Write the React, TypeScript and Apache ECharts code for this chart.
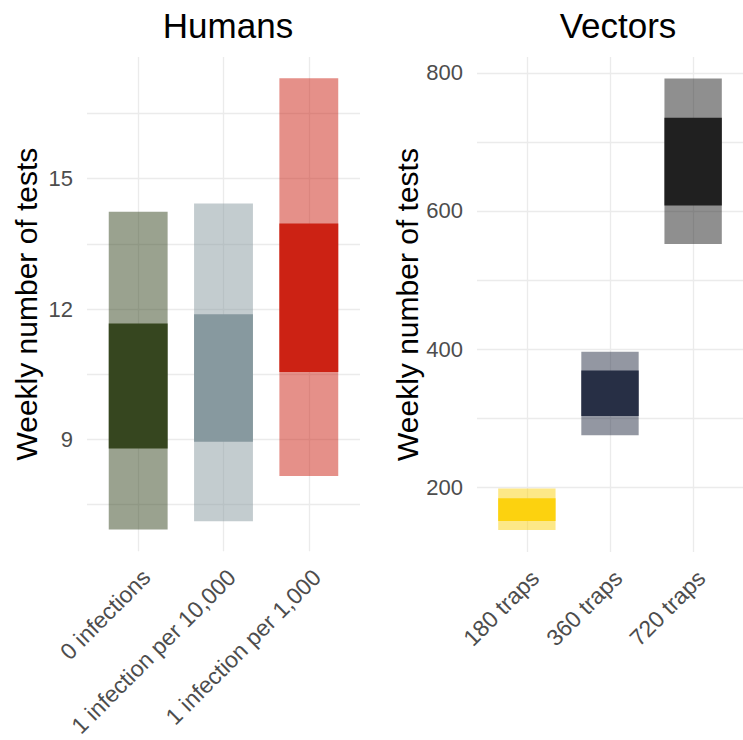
import React, { useEffect, useRef } from "react";
import * as echarts from "echarts";

const humanCategories = ["0 infections", "1 infection per 10,000", "1 infection per 1,000"];
const humanOuterLow = [6.93, 7.12, 8.16];
const humanOuterHigh = [14.24, 14.43, 17.31];
const humanInnerLow = [8.79, 8.95, 10.55];
const humanInnerHigh = [11.67, 11.88, 13.97];
const humanColors = ["#36461F", "#87999F", "#CC2214"];
const humanTicks = [7.5, 9, 10.5, 12, 13.5, 15, 16.5];
const humanLabels = [9, 12, 15];

const vectorCategories = ["180 traps", "360 traps", "720 traps"];
const vectorOuterLow = [138, 275, 552];
const vectorOuterHigh = [198, 396, 792];
const vectorInnerLow = [151, 303, 608];
const vectorInnerHigh = [184, 369, 735];
const vectorColors = ["#FCD20F", "#272F45", "#202020"];
const vectorTicks = [200, 300, 400, 500, 600, 700, 800];
const vectorLabels = [200, 400, 600, 800];

const FONT = "'Liberation Sans', Arial, sans-serif";
const GRID_COLOR = "#EBEBEB";

function buildData(oLow: number[], oHigh: number[], iLow: number[], iHigh: number[]) {
  return oLow.map((v, i) => [i + 1, v, oHigh[i], iLow[i], iHigh[i], i]);
}

function makeRenderItem(colors: string[]) {
  return (params: any, api: any) => {
    const x = api.value(0);
    const idx = api.value(5);
    const w = api.size([0.69, 0])[0];
    const oTop = api.coord([x, api.value(2)]);
    const oBot = api.coord([x, api.value(1)]);
    const iTop = api.coord([x, api.value(4)]);
    const iBot = api.coord([x, api.value(3)]);
    const c = colors[idx];
    return {
      type: "group",
      children: [
        {
          type: "rect",
          shape: { x: oTop[0] - w / 2, y: oTop[1], width: w, height: oBot[1] - oTop[1] },
          style: { fill: c, opacity: 0.5 },
        },
        {
          type: "rect",
          shape: { x: iTop[0] - w / 2, y: iTop[1], width: w, height: iBot[1] - iTop[1] },
          style: { fill: c },
        },
      ],
    };
  };
}

function xAxisFor(gridIndex: number, cats: string[]) {
  return {
    type: "value",
    gridIndex,
    min: 0.4,
    max: 3.6,
    axisLine: { show: false },
    axisTick: { show: false, customValues: [1, 2, 3] },
    splitLine: { show: true, lineStyle: { color: GRID_COLOR, width: 1.3 } },
    axisLabel: {
      customValues: [1, 2, 3],
      rotate: 45,
      margin: 14,
      fontSize: 23,
      verticalAlign: "top",
      color: "#4D4D4D",
      fontFamily: FONT,
      formatter: (v: number) => cats[Math.round(v) - 1] ?? "",
    },
  };
}

function yAxisFor(gridIndex: number, min: number, max: number, ticks: number[], labels: number[], nameGap: number) {
  return {
    type: "value",
    gridIndex,
    min,
    max,
    name: "Weekly number of tests",
    nameLocation: "middle",
    nameRotate: 90,
    nameGap,
    nameTextStyle: { fontSize: 30, color: "#000", fontFamily: FONT },
    axisLine: { show: false },
    axisTick: { show: false, customValues: ticks },
    splitLine: { show: true, lineStyle: { color: GRID_COLOR, width: 1.3 } },
    axisLabel: {
      customValues: labels,
      margin: 14,
      fontSize: 22,
      color: "#4D4D4D",
      fontFamily: FONT,
    },
  };
}

export default function App() {
  const ref = useRef<HTMLDivElement>(null);
  useEffect(() => {
    if (!ref.current) return;
    const chart = echarts.init(ref.current, null, { renderer: "svg" });
    chart.setOption({
      animation: false,
      backgroundColor: "#fff",
      title: [
        {
          text: "Humans",
          left: 223,
          top: 3,
          textAlign: "center",
          textStyle: { fontSize: 35, fontWeight: "normal", color: "#000", fontFamily: FONT },
        },
        {
          text: "Vectors",
          left: 613,
          top: 3,
          textAlign: "center",
          textStyle: { fontSize: 35, fontWeight: "normal", color: "#000", fontFamily: FONT },
        },
      ],
      grid: [
        { left: 87, top: 57, width: 273, height: 495 },
        { left: 477, top: 57, width: 273, height: 495 },
      ],
      xAxis: [xAxisFor(0, humanCategories), xAxisFor(1, vectorCategories)],
      yAxis: [
        yAxisFor(0, 6.43, 17.8, humanTicks, humanLabels, 46),
        yAxisFor(1, 106, 823, vectorTicks, vectorLabels, 46),
      ],
      series: [
        {
          type: "custom",
          xAxisIndex: 0,
          yAxisIndex: 0,
          renderItem: makeRenderItem(humanColors),
          encode: { x: 0, y: [1, 2] },
          data: buildData(humanOuterLow, humanOuterHigh, humanInnerLow, humanInnerHigh),
        },
        {
          type: "custom",
          xAxisIndex: 1,
          yAxisIndex: 1,
          renderItem: makeRenderItem(vectorColors),
          encode: { x: 0, y: [1, 2] },
          data: buildData(vectorOuterLow, vectorOuterHigh, vectorInnerLow, vectorInnerHigh),
        },
      ],
    });
    return () => chart.dispose();
  }, []);
  return (
    <div
      ref={ref}
      style={{ position: "absolute", left: 0, top: 0, width: 743, height: 740 }}
    />
  );
}
